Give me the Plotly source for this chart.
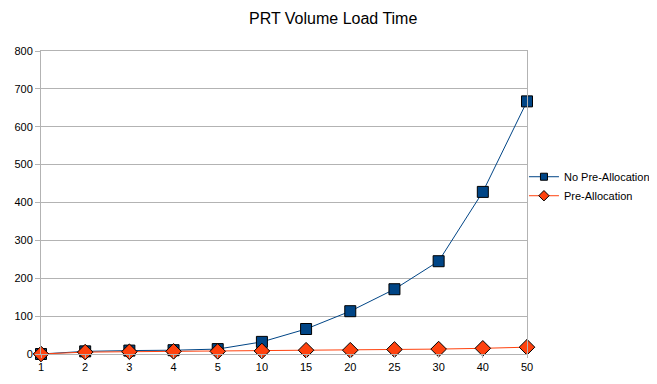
import plotly.graph_objects as go

categories = ["1", "2", "3", "4", "5", "10", "15", "20", "25", "30", "40", "50"]
no_prealloc = [0, 7, 9, 10, 13, 32, 66, 113, 171, 245, 428, 667]
prealloc = [0, 5, 6, 7, 7, 8, 10, 10, 12, 13, 15, 18]
y_ticks = [0, 100, 200, 300, 400, 500, 600, 700, 800]
series_names = ["No Pre-Allocation", "Pre-Allocation"]

FONT = "Liberation Sans, Arial, sans-serif"
GRID = "#b3b3b3"
BLUE = "#004586"
ORANGE = "#ff420e"

# page body has an 8px margin; size figure so it ends at the window edge
W, H = 649, 376

fig = go.Figure()
fig.add_trace(go.Scatter(
    x=categories, y=no_prealloc, name=series_names[0], showlegend=False,
    mode="lines+markers", legendgroup="a",
    line=dict(color=BLUE, width=1),
    marker=dict(symbol="square", size=11, color=BLUE,
                line=dict(color="#000000", width=1)),
    cliponaxis=False,
))
fig.add_trace(go.Scatter(
    x=categories, y=prealloc, name=series_names[1], showlegend=False,
    mode="lines+markers", legendgroup="b",
    line=dict(color=ORANGE, width=1),
    marker=dict(symbol="diamond", size=12, color=ORANGE,
                line=dict(color="#000000", width=1)),
    cliponaxis=False,
))
# legend entries with smaller symbols, as in the reference
fig.add_trace(go.Scatter(
    x=[None], y=[None], name=series_names[0], legendgroup="a",
    mode="lines+markers", line=dict(color=BLUE, width=1),
    marker=dict(symbol="square", size=7, color=BLUE,
                line=dict(color="#000000", width=1)),
))
fig.add_trace(go.Scatter(
    x=[None], y=[None], name=series_names[1], legendgroup="b",
    mode="lines+markers", line=dict(color=ORANGE, width=1),
    marker=dict(symbol="diamond", size=8, color=ORANGE,
                line=dict(color="#000000", width=1)),
))

fig.update_layout(
    width=W, height=H,
    margin=dict(l=33, r=130, t=43, b=30, autoexpand=False),
    paper_bgcolor="white", plot_bgcolor="white",
    font=dict(family=FONT, size=11, color="#000000"),
    title=dict(text="PRT Volume Load Time", x=0.501, xref="container",
               xanchor="center", y=0.973, yref="container", yanchor="middle",
               font=dict(family=FONT, size=16, color="#000000")),
    showlegend=True,
    legend=dict(x=0.795, y=0.526, xref="container", yref="container",
                xanchor="left", yanchor="middle",
                font=dict(family=FONT, size=11), bgcolor="rgba(0,0,0,0)",
                itemwidth=30, tracegroupgap=0),
)
fig.update_xaxes(
    type="category", range=[0, 11], showgrid=False, automargin=False,
    showline=True, linecolor=GRID, linewidth=1, mirror=True,
    ticks="outside", ticklen=3, tickcolor=GRID, zeroline=False,
    tickfont=dict(family=FONT, size=11),
)
fig.update_yaxes(
    range=[0, 800], tickvals=y_ticks, showgrid=True, gridcolor=GRID, gridwidth=1,
    showline=True, linecolor=GRID, linewidth=1, mirror=True, automargin=False,
    ticks="outside", ticklen=5, tickcolor=GRID, zeroline=False,
    tickfont=dict(family=FONT, size=11),
)

fig.write_html("out.html")
